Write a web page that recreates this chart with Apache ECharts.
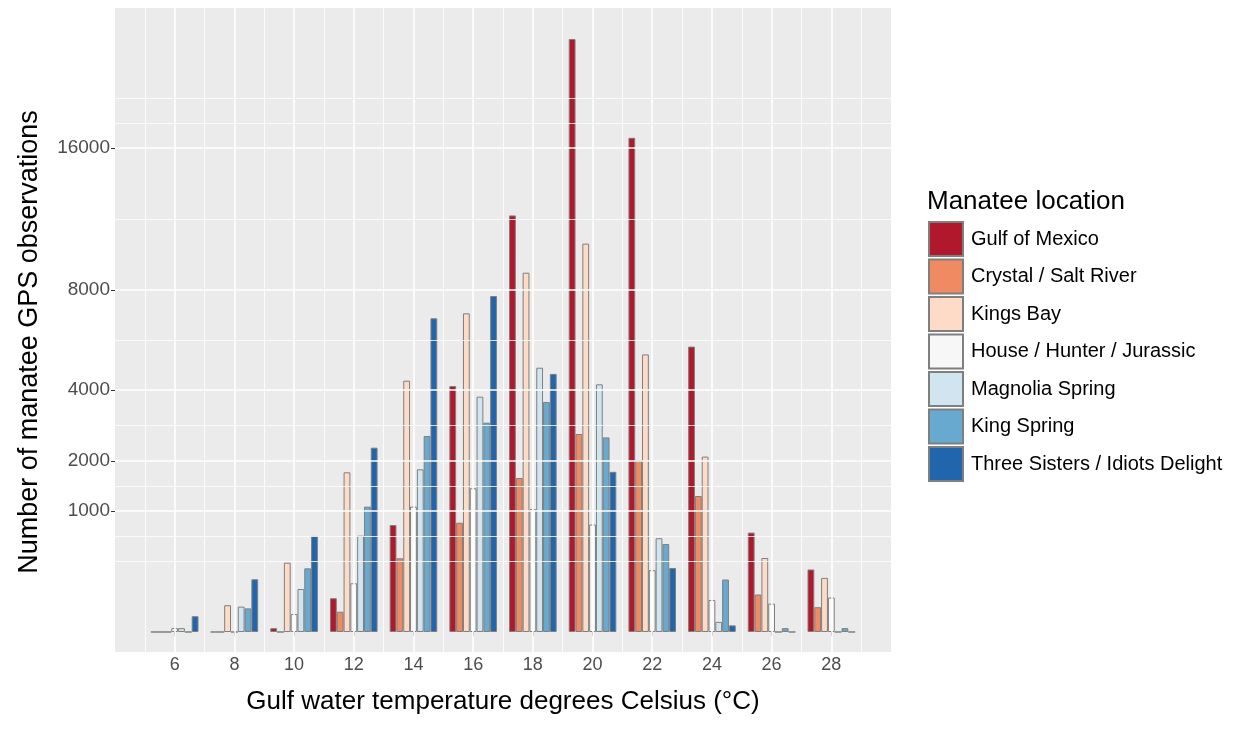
<!DOCTYPE html>
<html>
<head>
<meta charset="utf-8">
<script src="https://cdn.jsdelivr.net/npm/echarts@6/dist/echarts.min.js"></script>
<style>
  html, body { margin: 0; padding: 0; background: #fff; }
  #main { width: 1238px; height: 729px; }
</style>
</head>
<body>
<div id="main"></div>
<script>
var chartDom = document.getElementById('main');
var myChart = echarts.init(chartDom);

// water temperature bins (°C)
var temps = [6, 8, 10, 12, 14, 16, 18, 20, 22, 24, 26, 28];
var locations = ['Gulf of Mexico', 'Crystal / Salt River', 'Kings Bay', 'House / Hunter / Jurassic',
  'Magnolia Spring', 'King Spring', 'Three Sisters / Idiots Delight'];
// GPS observation counts per location, one value per temperature bin
var gulf = [0, 0, 1, 78, 782, 4134, 11856, 24025, 16685, 5565, 675, 267];
var crystal = [0, 0, 0, 28, 371, 816, 1620, 2678, 2016, 1263, 96, 42];
var kingsBay = [0, 49, 328, 1742, 4314, 6938, 8820, 10305, 5264, 2101, 374, 200];
var house = [1, 0, 22, 162, 1073, 1411, 1030, 789, 261, 70, 55, 81];
var magnolia = [1, 44, 126, 634, 1808, 3782, 4772, 4191, 601, 7, 0, 0];
var kingSpring = [0, 38, 277, 1073, 2624, 2993, 3614, 2587, 529, 188, 1, 1];
var threeSisters = [17, 190, 630, 2321, 6722, 7712, 4551, 1753, 280, 3, 0, 0];
var yTicks = [1000, 2000, 4000, 8000, 16000];
var xTicks = [6, 8, 10, 12, 14, 16, 18, 20, 22, 24, 26, 28];

var seriesValues = [gulf, crystal, kingsBay, house, magnolia, kingSpring, threeSisters];
var colors = ['#B2182B', '#EF8A62', '#FDDBC7', '#F7F7F7', '#D1E5F0', '#67A9CF', '#2166AC'];
var FONT = "'Liberation Sans', Arial, sans-serif";

// sqrt scale: ECharts has no sqrt axis, so the axis works in sqrt space
var sq = function (v) { return Math.sqrt(v); };

// ggplot-style grid lines: majors at ticks, minors halfway (in sqrt space)
var majY = yTicks.map(sq);
var step = majY[1] - majY[0];
var extY = [majY[0] - step].concat(majY, [majY[majY.length - 1] + step]);
var minY = [];
for (var i = 0; i < extY.length - 1; i++) minY.push((extY[i] + extY[i + 1]) / 2);
minY = minY.concat([extY[0], extY[extY.length - 1]]);
var minX = [];
for (var t = 5; t <= 29; t += 2) minX.push(t);

var gridLines = [];
minY.forEach(function (v) { gridLines.push({ yAxis: v, lineStyle: { width: 0.8 } }); });
minX.forEach(function (v) { gridLines.push({ xAxis: v, lineStyle: { width: 0.8 } }); });
majY.forEach(function (v) { gridLines.push({ yAxis: v, lineStyle: { width: 1.6 } }); });
xTicks.forEach(function (v) { gridLines.push({ xAxis: v, lineStyle: { width: 1.6 } }); });

var series = [{
  type: 'line',
  data: [],
  z: 1,
  silent: true,
  markLine: {
    silent: true,
    symbol: 'none',
    animation: false,
    label: { show: false },
    lineStyle: { color: '#ffffff', type: 'solid' },
    data: gridLines
  }
}];

locations.forEach(function (name, k) {
  series.push({
    name: name,
    type: 'bar',
    z: 3,
    barWidth: 6.8,
    barGap: '0%',
    itemStyle: { color: colors[k], borderColor: '#7F7F7F', borderWidth: 1 },
    data: temps.map(function (tp, j) { return [tp, sq(seriesValues[k][j])]; })
  });
});

var option = {
  animation: false,
  textStyle: { fontFamily: FONT },
  title: {
    text: 'Manatee location',
    left: 927,
    top: 189,
    padding: 0,
    textStyle: { fontSize: 26, fontWeight: 'normal', color: '#000', fontFamily: FONT }
  },
  legend: {
    orient: 'vertical',
    left: 928,
    top: 221,
    padding: 0,
    itemWidth: 34,
    itemHeight: 34,
    itemGap: 1.5,
    icon: 'rect',
    selectedMode: false,
    data: locations,
    textStyle: { fontSize: 20, color: '#000', fontFamily: FONT, padding: [0, 0, 0, 3] }
  },
  grid: {
    left: 115,
    right: 347,
    top: 8,
    bottom: 77,
    show: true,
    backgroundColor: '#EBEBEB',
    borderWidth: 0
  },
  xAxis: {
    type: 'value',
    min: 4,
    max: 30,
    name: 'Gulf water temperature degrees Celsius (°C)',
    nameLocation: 'middle',
    nameGap: 37,
    nameTextStyle: { fontSize: 26, color: '#000', fontFamily: FONT },
    axisLine: { show: false },
    splitLine: { show: false },
    axisTick: { show: true, length: 4, customValues: xTicks, lineStyle: { color: '#333333', width: 1 } },
    axisLabel: { customValues: xTicks, fontSize: 18, color: '#4D4D4D', margin: 4, fontFamily: FONT }
  },
  yAxis: {
    type: 'value',
    min: -5.23,
    max: 163.1,
    name: 'Number of manatee GPS observations',
    nameLocation: 'middle',
    nameGap: 72,
    nameTextStyle: { fontSize: 27, color: '#000', fontFamily: FONT, padding: [0, 24, 0, 0] },
    axisLine: { show: false },
    splitLine: { show: false },
    axisTick: { show: true, length: 4, customValues: majY, lineStyle: { color: '#333333', width: 1 } },
    axisLabel: {
      customValues: majY,
      fontSize: 19,
      color: '#4D4D4D',
      margin: 5,
      fontFamily: FONT,
      formatter: function (v) { return String(Math.round(v * v)); }
    }
  },
  series: series
};

option && myChart.setOption(option);
</script>
</body>
</html>
